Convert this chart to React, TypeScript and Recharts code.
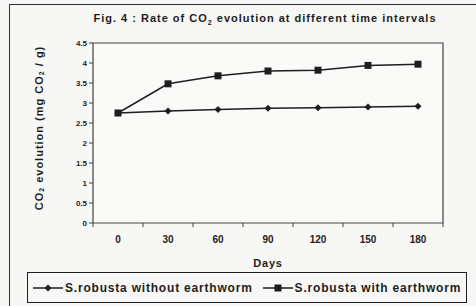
import React from 'react';
import { LineChart, Line, XAxis, YAxis, ReferenceArea, Legend } from 'recharts';

const days = ['0', '30', '60', '90', '120', '150', '180'];
const withoutWorm = [2.75, 2.8, 2.84, 2.87, 2.88, 2.9, 2.92];
const withWorm = [2.75, 3.48, 3.68, 3.8, 3.82, 3.94, 3.97];
const yTicks = [0, 0.5, 1, 1.5, 2, 2.5, 3, 3.5, 4, 4.5];

const seriesNames = ['S.robusta without earthworm', 'S.robusta with earthworm'];

// each day sits in the middle of its own slot, Excel style
const data = days.map((d, i) => ({ day: d, pos: i + 0.5, without: withoutWorm[i], with: withWorm[i] }));
// slot edges get tick marks, slot centres get the labels
const xTicks = [...days.map((_d, i) => i), days.length, ...data.map((r) => r.pos)].sort((a, b) => a - b);

const FONT = '"Liberation Sans", Arial, sans-serif';
const INK = '#1e1e1e';

const Diamond = (props: any) => {
  const { cx, cy } = props;
  if (cx == null || cy == null) return null;
  const r = 3.5;
  return <polygon points={`${cx},${cy - r} ${cx + r},${cy} ${cx},${cy + r} ${cx - r},${cy}`} fill={INK} />;
};

const Square = (props: any) => {
  const { cx, cy } = props;
  if (cx == null || cy == null) return null;
  return <rect x={cx - 3.5} y={cy - 3.5} width={7} height={7} fill={INK} />;
};

const DayTick = (props: any) => {
  const { x, y, payload } = props;
  const v = payload.value;
  if (Number.isInteger(v)) {
    return <line x1={x} y1={y} x2={x} y2={y + 4} stroke="#444" />;
  }
  return (
    <text x={x} y={y + 20} textAnchor="middle" fontFamily={FONT} fontWeight="bold" fontSize={10} fill={INK}>
      {days[Math.floor(v)]}
    </text>
  );
};

const YLabel = () => (
  <text x={40} y={128} transform="rotate(-90 40 128)" textAnchor="middle" dominantBaseline="middle"
    fontFamily={FONT} fontWeight="bold" fontSize={11} letterSpacing={1} fill={INK}>
    CO<tspan fontSize={7} dy={2}>2</tspan><tspan dy={-2}> evolution (mg CO</tspan><tspan fontSize={7} dy={2}>2</tspan><tspan dy={-2}> / g)</tspan>
  </text>
);

const renderLegend = () => (
  <div style={{
    boxSizing: 'border-box', border: `1px solid ${INK}`, width: 440, height: 31,
    display: 'flex', alignItems: 'center', fontFamily: FONT, fontWeight: 'bold',
    fontSize: 12, letterSpacing: 0.8, color: INK, background: '#f7f7f5', whiteSpace: 'nowrap',
  }}>
    <svg width={30} height={10} style={{ marginLeft: 5 }}>
      <line x1={0} y1={5} x2={30} y2={5} stroke={INK} strokeWidth={1.5} />
      <Diamond cx={15} cy={5} />
    </svg>
    <span style={{ marginLeft: 2 }}>{seriesNames[0]}</span>
    <svg width={30} height={10} style={{ marginLeft: 10 }}>
      <line x1={0} y1={5} x2={30} y2={5} stroke={INK} strokeWidth={1.5} />
      <Square cx={15} cy={5} />
    </svg>
    <span style={{ marginLeft: 2 }}>{seriesNames[1]}</span>
  </div>
);

export default function App() {
  return (
    <div style={{ position: 'absolute', left: 0, top: 0, width: 476, height: 306, background: '#f7f7f5', overflow: 'hidden' }}>
      <div style={{ position: 'absolute', left: 9, top: 4, width: 500, height: 320, border: `1px solid #333`, boxSizing: 'border-box' }} />
      <div style={{
        position: 'absolute', left: 60, top: 12, width: 410, textAlign: 'center', whiteSpace: 'nowrap',
        fontFamily: FONT, fontWeight: 'bold', fontSize: 11, letterSpacing: 1, color: INK,
      }}>
        Fig. 4 : Rate of CO<sub style={{ fontSize: 7 }}>2</sub> evolution at different time intervals
      </div>
      <LineChart width={476} height={306} data={data} margin={{ top: 43, right: 33, left: 63, bottom: 33 }}>
        <XAxis dataKey="pos" type="number" domain={[0, days.length]} allowDataOverflow ticks={xTicks}
          interval={0} height={50} tickSize={0} tickMargin={0} tickLine={false} axisLine={false}
          tick={<DayTick />}
          label={{ value: 'Days', position: 'insideBottom', offset: 6, fontSize: 11, fontWeight: 'bold', letterSpacing: 0.8, fill: INK, fontFamily: FONT }} />
        <YAxis domain={[0, 4.5]} ticks={yTicks} width={30} tickSize={4} tickMargin={2} stroke="#444"
          axisLine={false} interval={0}
          tick={{ fontSize: 8, fontWeight: 'bold', fill: INK, fontFamily: FONT }}
          label={{ content: () => <YLabel /> }} />
        <ReferenceArea x1={0} x2={days.length} y1={0} y2={4.5} fill="#fafaf8" fillOpacity={1}
          stroke="#444" strokeWidth={1.2} ifOverflow="visible" />
        <Line dataKey="without" name={seriesNames[0]} stroke={INK} strokeWidth={1.5} dot={<Diamond />}
          isAnimationActive={false} />
        <Line dataKey="with" name={seriesNames[1]} stroke={INK} strokeWidth={1.5} dot={<Square />}
          isAnimationActive={false} />
        <Legend layout="horizontal" verticalAlign="middle" align="center" content={renderLegend}
          wrapperStyle={{ left: 27, top: 272, width: 440, height: 31 }} />
      </LineChart>
    </div>
  );
}
